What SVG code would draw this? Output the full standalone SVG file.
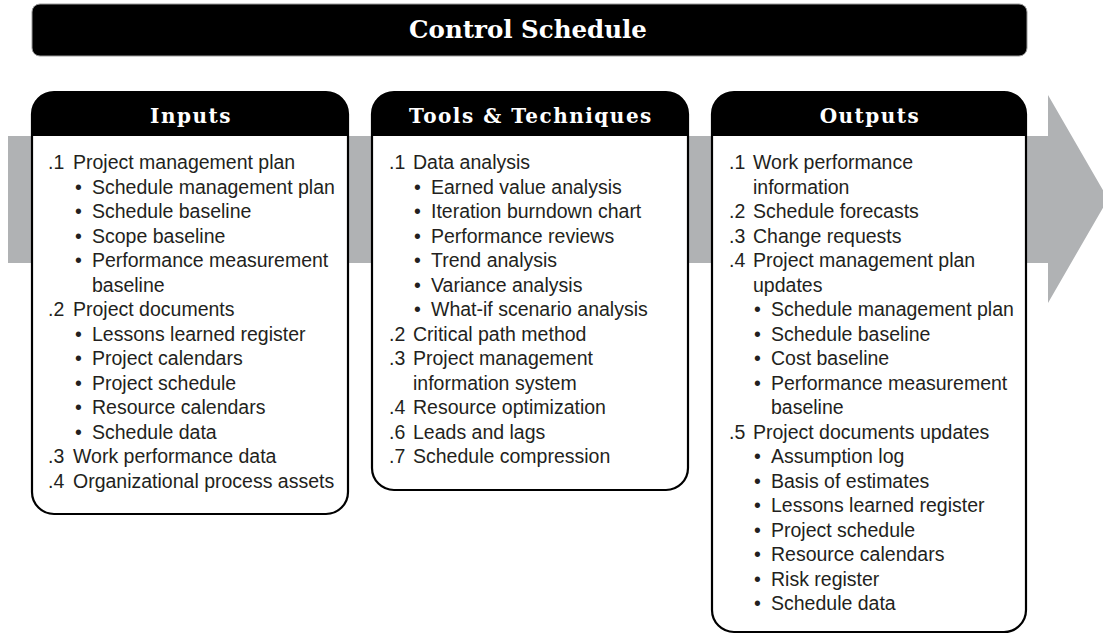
<svg xmlns="http://www.w3.org/2000/svg" width="1103" height="635" viewBox="0 0 1103 635">
<style>
.t{font-family:"Liberation Sans",Arial,sans-serif;font-size:19.5px;fill:#231f20}
.h{font-family:"DejaVu Serif",serif;font-weight:bold;font-size:20px;letter-spacing:1.5px;fill:#fff;text-anchor:middle}
.title{font-family:"DejaVu Serif",serif;font-weight:bold;font-size:24.5px;fill:#fff;text-anchor:middle}
.box{fill:#fff;stroke:#000;stroke-width:2.2}
.hdr{fill:#000}
</style>
<rect width="1103" height="635" fill="#fff"/>
<g id="connectors">
<path d="M8,136 H1048 V95 L1108,199 L1048,303 V263 H8 Z" fill="#b0b2b4"/>
</g>
<g id="title">
<rect x="32" y="4" width="995" height="52" rx="8" fill="#000" stroke="#999" stroke-width="1"/>
<text class="title" x="528" y="38">Control Schedule</text>
</g>
<g id="inputs">
<path class="box" d="M32,114 A22,22 0 0 1 54,92 H326 A22,22 0 0 1 348,114 V492 A22,22 0 0 1 326,514 H54 A22,22 0 0 1 32,492 Z"/>
<path class="hdr" d="M32,136 V114 A22,22 0 0 1 54,92 H326 A22,22 0 0 1 348,114 V136 Z"/>
<text class="h" x="191" y="123">Inputs</text>
<text class="t" x="48" y="169">.1</text><text class="t" x="73" y="169">Project management plan</text>
<text class="t" x="75" y="194">•</text><text class="t" x="92" y="194">Schedule management plan</text>
<text class="t" x="75" y="218">•</text><text class="t" x="92" y="218">Schedule baseline</text>
<text class="t" x="75" y="243">•</text><text class="t" x="92" y="243">Scope baseline</text>
<text class="t" x="75" y="267">•</text><text class="t" x="92" y="267">Performance measurement</text>
<text class="t" x="92" y="292">baseline</text>
<text class="t" x="48" y="316">.2</text><text class="t" x="73" y="316">Project documents</text>
<text class="t" x="75" y="341">•</text><text class="t" x="92" y="341">Lessons learned register</text>
<text class="t" x="75" y="365">•</text><text class="t" x="92" y="365">Project calendars</text>
<text class="t" x="75" y="390">•</text><text class="t" x="92" y="390">Project schedule</text>
<text class="t" x="75" y="414">•</text><text class="t" x="92" y="414">Resource calendars</text>
<text class="t" x="75" y="439">•</text><text class="t" x="92" y="439">Schedule data</text>
<text class="t" x="48" y="463">.3</text><text class="t" x="73" y="463">Work performance data</text>
<text class="t" x="48" y="488">.4</text><text class="t" x="73" y="488">Organizational process assets</text>
</g>
<g id="tools">
<path class="box" d="M372,114 A22,22 0 0 1 394,92 H666 A22,22 0 0 1 688,114 V468 A22,22 0 0 1 666,490 H394 A22,22 0 0 1 372,468 Z"/>
<path class="hdr" d="M372,136 V114 A22,22 0 0 1 394,92 H666 A22,22 0 0 1 688,114 V136 Z"/>
<text class="h" x="531" y="123">Tools &amp; Techniques</text>
<text class="t" x="389" y="169">.1</text><text class="t" x="413" y="169">Data analysis</text>
<text class="t" x="414" y="194">•</text><text class="t" x="431" y="194">Earned value analysis</text>
<text class="t" x="414" y="218">•</text><text class="t" x="431" y="218">Iteration burndown chart</text>
<text class="t" x="414" y="243">•</text><text class="t" x="431" y="243">Performance reviews</text>
<text class="t" x="414" y="267">•</text><text class="t" x="431" y="267">Trend analysis</text>
<text class="t" x="414" y="292">•</text><text class="t" x="431" y="292">Variance analysis</text>
<text class="t" x="414" y="316">•</text><text class="t" x="431" y="316">What-if scenario analysis</text>
<text class="t" x="389" y="341">.2</text><text class="t" x="413" y="341">Critical path method</text>
<text class="t" x="389" y="365">.3</text><text class="t" x="413" y="365">Project management</text>
<text class="t" x="413" y="390">information system</text>
<text class="t" x="389" y="414">.4</text><text class="t" x="413" y="414">Resource optimization</text>
<text class="t" x="389" y="439">.6</text><text class="t" x="413" y="439">Leads and lags</text>
<text class="t" x="389" y="463">.7</text><text class="t" x="413" y="463">Schedule compression</text>
</g>
<g id="outputs">
<path class="box" d="M712,114 A22,22 0 0 1 734,92 H1004 A22,22 0 0 1 1026,114 V610 A22,22 0 0 1 1004,632 H734 A22,22 0 0 1 712,610 Z"/>
<path class="hdr" d="M712,136 V114 A22,22 0 0 1 734,92 H1004 A22,22 0 0 1 1026,114 V136 Z"/>
<text class="h" x="870" y="123">Outputs</text>
<text class="t" x="729" y="169">.1</text><text class="t" x="753" y="169">Work performance</text>
<text class="t" x="753" y="194">information</text>
<text class="t" x="729" y="218">.2</text><text class="t" x="753" y="218">Schedule forecasts</text>
<text class="t" x="729" y="243">.3</text><text class="t" x="753" y="243">Change requests</text>
<text class="t" x="729" y="267">.4</text><text class="t" x="753" y="267">Project management plan</text>
<text class="t" x="753" y="292">updates</text>
<text class="t" x="754" y="316">•</text><text class="t" x="771" y="316">Schedule management plan</text>
<text class="t" x="754" y="341">•</text><text class="t" x="771" y="341">Schedule baseline</text>
<text class="t" x="754" y="365">•</text><text class="t" x="771" y="365">Cost baseline</text>
<text class="t" x="754" y="390">•</text><text class="t" x="771" y="390">Performance measurement</text>
<text class="t" x="771" y="414">baseline</text>
<text class="t" x="729" y="439">.5</text><text class="t" x="753" y="439">Project documents updates</text>
<text class="t" x="754" y="463">•</text><text class="t" x="771" y="463">Assumption log</text>
<text class="t" x="754" y="488">•</text><text class="t" x="771" y="488">Basis of estimates</text>
<text class="t" x="754" y="512">•</text><text class="t" x="771" y="512">Lessons learned register</text>
<text class="t" x="754" y="537">•</text><text class="t" x="771" y="537">Project schedule</text>
<text class="t" x="754" y="561">•</text><text class="t" x="771" y="561">Resource calendars</text>
<text class="t" x="754" y="586">•</text><text class="t" x="771" y="586">Risk register</text>
<text class="t" x="754" y="610">•</text><text class="t" x="771" y="610">Schedule data</text>
</g>
</svg>
